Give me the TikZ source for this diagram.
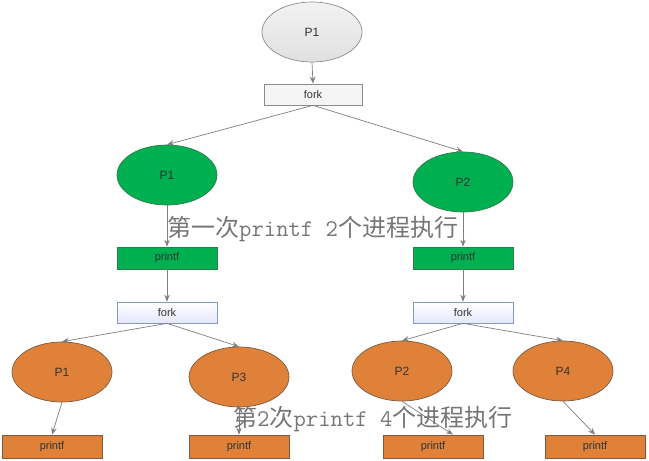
\documentclass[tikz,border=0pt]{standalone}
\usepackage{fontspec}
\setmainfont{Liberation Sans}
\newfontfamily\cjk{Noto Sans CJK SC}
\usetikzlibrary{shapes.geometric,arrows.meta}
\definecolor{lineg}{HTML}{7F7F7F}
\definecolor{grn}{HTML}{00B050}
\definecolor{grnb}{HTML}{2E7D4A}
\definecolor{org}{HTML}{DF8139}
\definecolor{orgb}{HTML}{7A5A40}
\definecolor{forkb}{HTML}{7F9DB9}
\definecolor{capg}{HTML}{767676}
\newcommand{\lat}[1]{{\ttfamily\fontsize{24}{26}\selectfont #1}}
\tikzset{
  proc/.style={ellipse, minimum width=100pt, minimum height=60pt, line width=0.7pt, font=\fontsize{12}{14}\selectfont, text=black!80},
  greyproc/.style={proc, draw=black!45, top color=white!95!black, bottom color=black!12},
  greenproc/.style={proc, draw=grnb, fill=grn},
  orangeproc/.style={proc, draw=orgb, fill=org},
  boxbase/.style={rectangle, minimum width=100pt, minimum height=22pt, line width=0.7pt, font=\fontsize{11}{13}\selectfont, text=black!80, inner sep=0pt},
  forkbox/.style={boxbase, draw=forkb, top color=white, bottom color=blue!10!white},
  topfork/.style={boxbase, draw=black!45, fill=white!96!black, minimum width=98pt, minimum height=21pt},
  greenbox/.style={boxbase, draw=grnb, fill=grn},
  orangebox/.style={boxbase, draw=orgb, fill=org},
  conn/.style={draw=lineg, line width=0.7pt, -{Stealth[length=7pt,width=5.5pt]}},
  caption/.style={text=capg, inner sep=0pt, font=\fontsize{24}{26}\selectfont}
}
\begin{document}
\begin{tikzpicture}[x=1pt,y=-1pt]
\useasboundingbox (0,0) rectangle (649,461);
\node[greyproc] (top) at (312,32) {P1};
\node[topfork] (fork0) at (313,94.5) {fork};
\node[greenproc] (g1) at (167,175) {P1};
\node[greenproc] (g2) at (463,182) {P2};
\node[greenbox] (gp1) at (167,258) {printf};
\node[greenbox] (gp2) at (463,258) {printf};
\node[forkbox, minimum height=21pt] (f1) at (167,312.5) {fork};
\node[forkbox, minimum height=21pt] (f2) at (463,312.5) {fork};
\node[orangeproc] (o1) at (62,372) {P1};
\node[orangeproc] (o3) at (239,377) {P3};
\node[orangeproc] (o2) at (402,371) {P2};
\node[orangeproc] (o4) at (563,371) {P4};
\node[orangebox, minimum height=23pt] (op1) at (52,446.5) {printf};
\node[orangebox, minimum height=23pt] (op3) at (239,446.5) {printf};
\node[orangebox, minimum height=23pt] (op2) at (433,446.5) {printf};
\node[orangebox, minimum height=23pt] (op4) at (595,446.5) {printf};

\draw[conn] (top.south) -- (fork0.north);
\draw[conn] (fork0.south) -- (g1.north);
\draw[conn] (fork0.south) -- (g2.north);
\draw[conn] (g1.south) -- (gp1.north);
\draw[conn] (g2.south) -- (gp2.north);
\draw[conn] (gp1.south) -- (f1.north);
\draw[conn] (gp2.south) -- (f2.north);
\draw[conn] (f1.south) -- (o1.north);
\draw[conn] (f1.south) -- (o3.north);
\draw[conn] (f2.south) -- (o2.north);
\draw[conn] (f2.south) -- (o4.north);
\draw[conn] (o1.south) -- (op1.north);
\draw[conn] (o3.south) -- (op3.north);
\draw[conn] (o2.south) -- ([xshift=20pt]op2.north);
\draw[conn] (o4.south) -- (op4.north);

\node[caption, anchor=west] (cap1) at (167,229) {\cjk 第一次\lat{printf 2}个进程执行};
\node[caption, anchor=west] (cap2) at (233,419) {\cjk 第\lat{2}次\lat{printf 4}个进程执行};
\end{tikzpicture}
\end{document}
